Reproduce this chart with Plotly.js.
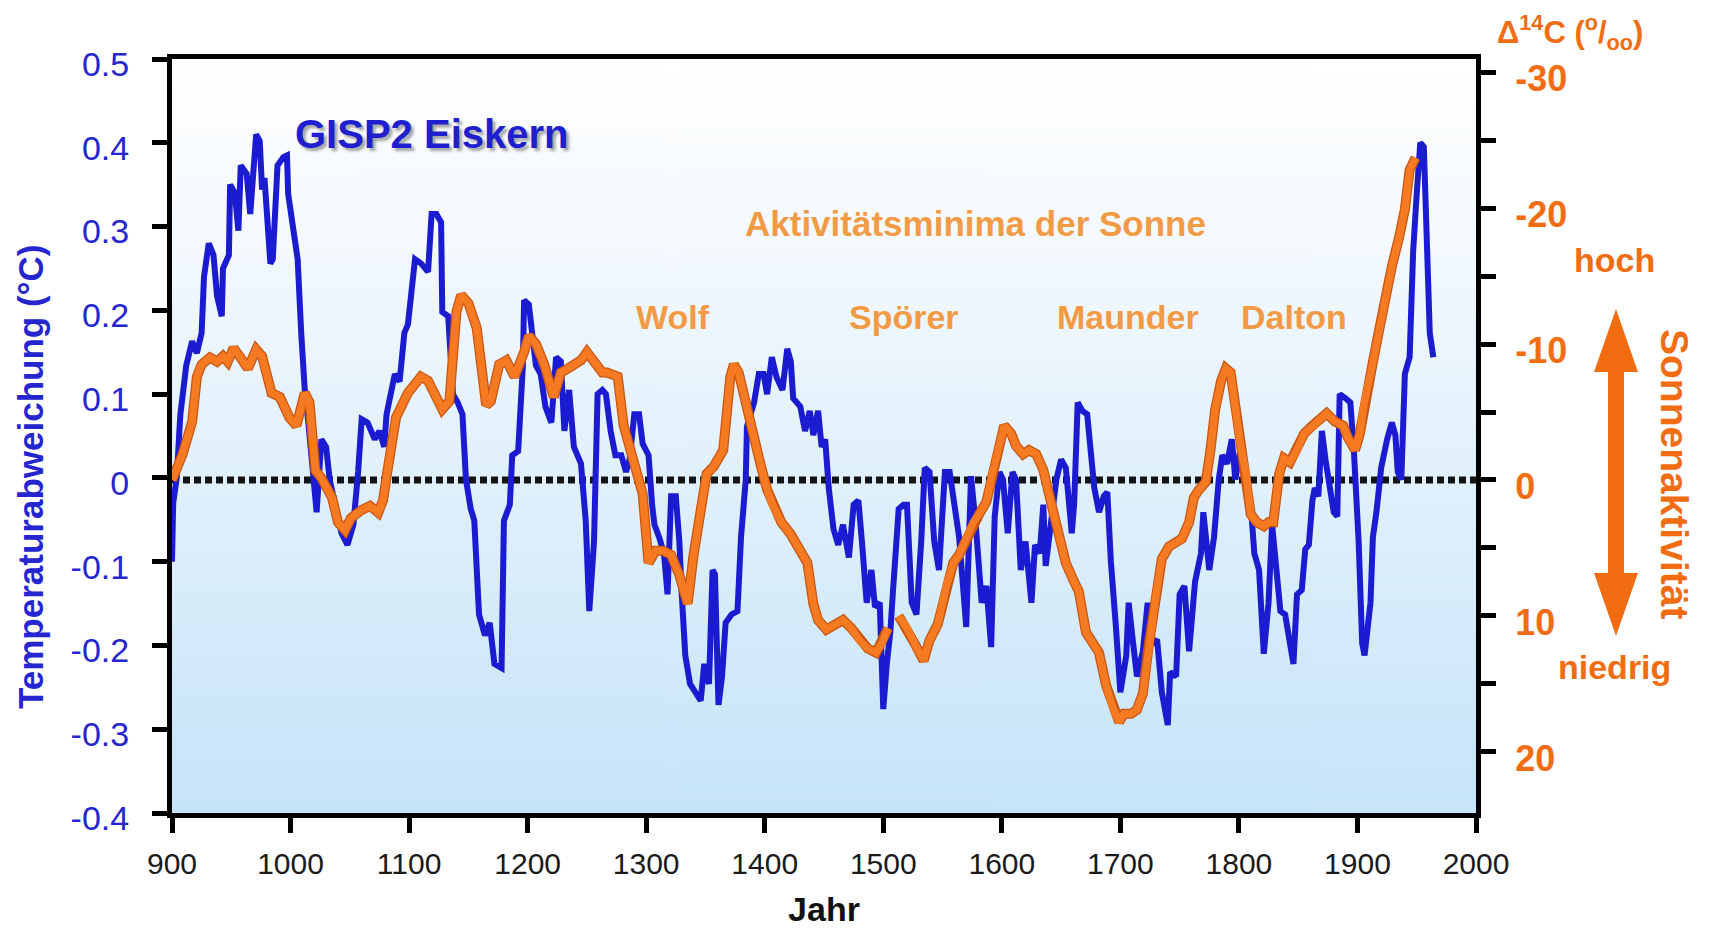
<!DOCTYPE html>
<html>
<head>
<meta charset="utf-8">
<script src="https://cdn.plot.ly/plotly-3.0.1.min.js"></script>
<style>
html,body{margin:0;padding:0;background:#ffffff;}
#chart{width:1710px;height:937px;}
</style>
</head>
<body>
<div id="chart"></div>
<script>
// ---------------- DATA ----------------
// GISP2 ice core temperature anomaly (°C)
const gispYears = [900,901,904,907,912,917,921,925,927,931,935,938,942,943,948,949,953,956,958,963,966,969,971,974,976,978,983,985,989,994,997,998,1002,1006,1009,1012,1015,1019,1022,1026,1030,1033,1037,1043,1048,1053,1057,1060,1065,1071,1075,1079,1081,1084,1088,1092,1096,1099,1105,1110,1116,1119,1123,1127,1128,1133,1134,1137,1141,1145,1148,1152,1155,1159,1164,1168,1172,1178,1180,1185,1187,1192,1196,1197,1201,1204,1207,1211,1215,1220,1224,1228,1231,1235,1239,1245,1249,1252,1256,1259,1263,1266,1270,1274,1279,1283,1286,1290,1294,1297,1302,1305,1307,1311,1315,1318,1321,1325,1328,1330,1333,1337,1342,1346,1349,1353,1356,1358,1361,1364,1367,1372,1377,1380,1384,1385,1391,1395,1399,1402,1406,1410,1415,1419,1422,1424,1430,1434,1438,1441,1445,1448,1451,1454,1458,1462,1466,1471,1475,1479,1482,1486,1490,1493,1497,1500,1503,1506,1508,1513,1517,1520,1524,1528,1532,1535,1539,1543,1547,1552,1556,1560,1564,1570,1574,1578,1583,1587,1591,1594,1598,1601,1605,1609,1612,1616,1620,1625,1628,1632,1635,1637,1640,1646,1650,1654,1659,1661,1664,1668,1672,1675,1678,1682,1686,1689,1692,1696,1700,1705,1707,1710,1714,1719,1723,1727,1731,1735,1740,1742,1747,1750,1754,1758,1761,1763,1768,1770,1775,1779,1783,1786,1790,1794,1797,1801,1805,1810,1813,1817,1821,1825,1828,1832,1835,1839,1843,1846,1849,1853,1856,1859,1862,1864,1867,1870,1873,1877,1880,1883,1885,1890,1894,1897,1901,1904,1906,1911,1913,1916,1920,1925,1929,1932,1934,1937,1940,1944,1947,1950,1953,1956,1958,1961,1964];
const gispTemp = [-0.10,-0.03,0.00,0.075,0.134,0.163,0.149,0.173,0.24,0.28,0.266,0.217,0.193,0.25,0.266,0.35,0.34,0.295,0.373,0.363,0.315,0.368,0.41,0.402,0.344,0.358,0.256,0.261,0.373,0.383,0.385,0.339,0.295,0.261,0.173,0.105,0.066,-0.002,-0.041,0.046,0.037,-0.002,-0.027,-0.066,-0.08,-0.056,0.007,0.07,0.066,0.046,0.056,0.037,0.076,0.095,0.124,0.115,0.173,0.183,0.261,0.256,0.246,0.315,0.315,0.305,0.198,0.193,0.159,0.10,0.09,0.076,-0.002,-0.037,-0.051,-0.163,-0.188,-0.173,-0.222,-0.227,-0.051,-0.032,0.027,0.032,0.134,0.212,0.207,0.163,0.134,0.124,0.085,0.066,0.144,0.139,0.056,0.105,0.037,0.017,-0.051,-0.159,-0.076,0.10,0.105,0.10,0.056,0.027,0.027,0.007,0.022,0.076,0.076,0.041,0.027,-0.032,-0.056,-0.071,-0.09,-0.139,-0.022,-0.022,-0.076,-0.139,-0.212,-0.246,-0.256,-0.266,-0.222,-0.246,-0.11,-0.115,-0.271,-0.237,-0.173,-0.163,-0.159,-0.071,-0.002,0.061,0.09,0.124,0.124,0.10,0.144,0.12,0.105,0.154,0.139,0.095,0.085,0.056,0.08,0.051,0.08,0.037,0.046,-0.012,-0.061,-0.08,-0.056,-0.095,-0.032,-0.027,-0.076,-0.149,-0.11,-0.154,-0.149,-0.276,-0.222,-0.183,-0.139,-0.037,-0.032,-0.032,-0.149,-0.163,-0.076,0.012,0.007,-0.076,-0.11,0.007,0.007,-0.032,-0.071,-0.178,0.002,-0.056,-0.149,-0.129,-0.202,-0.046,0.007,-0.002,-0.066,0.007,-0.002,-0.11,-0.076,-0.149,-0.08,-0.09,-0.032,-0.105,-0.071,-0.002,0.022,0.012,-0.066,-0.032,0.09,0.08,0.076,0.027,-0.012,-0.041,-0.022,-0.017,-0.10,-0.173,-0.256,-0.212,-0.149,-0.188,-0.237,-0.207,-0.149,-0.198,-0.193,-0.256,-0.295,-0.232,-0.237,-0.139,-0.129,-0.207,-0.149,-0.124,-0.09,-0.041,-0.11,-0.071,-0.002,0.027,0.017,0.046,-0.002,0.032,0.012,-0.032,-0.09,-0.11,-0.21,-0.149,-0.056,-0.124,-0.159,-0.163,-0.198,-0.222,-0.139,-0.134,-0.085,-0.08,-0.027,-0.012,-0.022,0.056,0.022,-0.012,-0.041,-0.046,0.10,0.095,0.09,0.032,-0.076,-0.198,-0.212,-0.149,-0.071,-0.041,0.012,0.046,0.066,0.051,0.007,-0.002,0.124,0.144,0.271,0.339,0.40,0.395,0.30,0.173,0.144];

// Delta 14C (per mil), null = gap in the record
const c14Years = [900,909,917,921,925,932,938,943,947,952,957,964,971,976,984,991,999,1005,1012,1016,1021,1026,1035,1040,1046,1051,1060,1067,1074,1078,1082,1089,1099,1110,1116,1122,1128,1134,1140,1144,1150,1157,1165,1169,1176,1182,1189,1197,1201,1207,1214,1222,1228,1234,1239,1245,1250,1256,1263,1267,1276,1281,1287,1293,1297,1302,1308,1314,1321,1328,1335,1340,1346,1351,1357,1365,1371,1374,1378,1384,1391,1396,1402,1407,1414,1422,1430,1436,1441,1445,1452,1459,1466,1473,1480,1487,1494,1500,1504,1508,1513,1520,1527,1534,1539,1546,1553,1559,1564,1570,1576,1581,1587,1592,1598,1602,1608,1612,1618,1623,1629,1635,1643,1649,1654,1660,1665,1671,1677,1682,1688,1693,1699,1703,1709,1714,1719,1724,1730,1735,1741,1747,1752,1758,1762,1766,1772,1776,1780,1785,1789,1793,1797,1801,1806,1810,1815,1821,1825,1829,1834,1838,1843,1849,1855,1862,1869,1874,1881,1888,1892,1898,1902,1906,1912,1918,1923,1929,1935,1940,1944,1949];
const c14Delta = [0,-1.9,-4.3,-7.6,-8.5,-9.0,-8.7,-9.1,-8.7,-9.7,-9.1,-8.2,-9.6,-9.1,-6.4,-6.1,-4.6,-4.0,-6.4,-5.7,-0.7,-0.15,1.3,3.1,3.7,2.8,2.2,1.9,2.4,1.5,-0.8,-4.6,-6.4,-7.6,-7.3,-6.1,-5.2,-5.8,-12.4,-13.6,-13.0,-11.2,-5.5,-5.8,-8.5,-8.8,-7.6,-9.4,-10.6,-10.0,-8.5,-6.1,-7.9,-8.2,-8.5,-8.8,-9.4,-8.7,-7.9,-7.9,-7.6,-4.0,-2.2,-0.45,1.0,6.1,5.2,5.2,5.5,7.0,9.1,5.5,2.2,-0.45,-1.0,-2.2,-7.6,-8.5,-7.9,-5.5,-3.1,-1.3,0.7,1.9,3.1,4.0,5.2,6.1,9.1,10.3,11.0,10.6,10.3,10.9,11.8,12.4,12.7,11.8,10.9,null,10.0,10.9,12.1,13.3,11.8,10.6,7.9,6.1,5.5,4.3,3.1,2.5,1.6,-0.45,-2.8,-4.0,-3.4,-2.5,-1.9,-2.2,-1.9,-0.75,2.2,4.3,6.1,7.3,8.2,11.2,12.1,12.7,15.1,16.6,17.8,17.2,17.2,16.9,15.7,12.1,8.5,5.8,4.9,4.6,4.3,3.1,1.3,0.75,0.15,-2.2,-5.2,-7.3,-8.2,-7.9,-5.2,-2.8,-0.45,2.5,3.1,3.4,3.1,3.1,-0.45,-1.6,-1.3,-2.2,-3.4,-4.0,-4.6,-4.9,-4.3,-4.0,-3.1,-2.2,-3.4,-5.8,-8.2,-10.9,-13.3,-15.7,-17.8,-19.9,-22.8,-23.7];

// Axis ticks / labels
const xTickVals = [900,1000,1100,1200,1300,1400,1500,1600,1700,1800,1900,2000];
const xTickText = ["900","1000","1100","1200","1300","1400","1500","1600","1700","1800","1900","2000"];
const yTickVals = [-0.4,-0.3,-0.2,-0.1,0,0.1,0.2,0.3,0.4,0.5];
const yTickText = ["-0.4","-0.3","-0.2","-0.1","0","0.1","0.2","0.3","0.4","0.5"];
const y2TickVals = [-30,-20,-10,0,10,20];
const y2TickText = ["-30","-20","-10","0","10","20"];
const y2MinorVals = [-25,-15,-5,5,15];
const minimaNames = ["Wolf","Spörer","Maunder","Dalton"];

// ---------------- LAYOUT HELPERS ----------------
const W = 1710, H = 937;
const PL = 172, PR = 1476, PT = 59, PB = 813;   // plot area in pixels
const fx = px => (px - PL) / (PR - PL);
const fy = py => (PB - py) / (PB - PT);

const FONT = '"Liberation Sans", Arial, Helvetica, sans-serif';
const BLUE = '#1b1bd2';
const BLUE_TXT = '#2626d0';
const ORANGE = '#f26c12';
const ORANGE_LIGHT = '#f39a45';

// background gradient (white -> light blue)
const cv = document.createElement('canvas');
cv.width = 4; cv.height = 256;
const ctx = cv.getContext('2d');
const grd = ctx.createLinearGradient(0, 0, 0, 256);
grd.addColorStop(0, '#ffffff');
grd.addColorStop(0.22, '#f5fafe');
grd.addColorStop(1, '#c6e4f9');
ctx.fillStyle = grd;
ctx.fillRect(0, 0, 4, 256);
const bgURL = cv.toDataURL('image/png');

// double arrow (pixel geometry -> paper coords)
const ax = 1616, aTop = 309, aBot = 636, headL = 63, headW = 22, shaftW = 8;
function P(x, y) { return fx(x).toFixed(5) + ',' + fy(y).toFixed(5); }
const arrowPath = 'M' + P(ax, aTop) +
  ' L' + P(ax + headW, aTop + headL) + ' L' + P(ax + shaftW, aTop + headL) +
  ' L' + P(ax + shaftW, aBot - headL) + ' L' + P(ax + headW, aBot - headL) +
  ' L' + P(ax, aBot) + ' L' + P(ax - headW, aBot - headL) +
  ' L' + P(ax - shaftW, aBot - headL) + ' L' + P(ax - shaftW, aTop + headL) +
  ' L' + P(ax - headW, aTop + headL) + ' Z';

// ---------------- TRACES ----------------
const traces = [
  {
    type: 'scatter', mode: 'lines', name: 'GISP2 Eiskern',
    x: gispYears, y: gispTemp, xaxis: 'x', yaxis: 'y',
    line: {color: BLUE, width: 6, shape: 'linear'},
    hoverinfo: 'x+y'
  },
  {
    type: 'scatter', mode: 'lines', name: 'Δ14C edge',
    x: c14Years, y: c14Delta, xaxis: 'x', yaxis: 'y2',
    line: {color: '#c95513', width: 10}, connectgaps: false,
    hoverinfo: 'skip', showlegend: false
  },
  {
    type: 'scatter', mode: 'lines', name: 'Δ14C',
    x: c14Years, y: c14Delta, xaxis: 'x', yaxis: 'y2',
    line: {color: '#f57a22', width: 7.5}, connectgaps: false,
    hoverinfo: 'x+y'
  }
];

const minimaX = [673, 904, 1128, 1294];

const annotations = [
  {text: 'GISP2 Eiskern', xref: 'paper', yref: 'paper', x: fx(431), y: fy(134),
   xanchor: 'center', yanchor: 'middle', showarrow: false,
   font: {family: FONT, size: 40, color: '#1f1fd0', weight: 700, shadow: '3px 3px 3px rgba(90,90,90,0.55)'}},
  {text: 'Aktivitätsminima der Sonne', xref: 'paper', yref: 'paper', x: fx(975), y: fy(223),
   xanchor: 'center', yanchor: 'middle', showarrow: false,
   font: {family: FONT, size: 35, color: ORANGE_LIGHT, weight: 700}},
  {text: 'Temperaturabweichung (°C)', xref: 'paper', yref: 'paper', x: fx(31), y: fy(477),
   xanchor: 'center', yanchor: 'middle', showarrow: false, textangle: -90,
   font: {family: FONT, size: 35, color: BLUE_TXT, weight: 700}},
  {text: 'Δ<sup>14</sup>C (<sup>o</sup>/<sub>oo</sub>)', xref: 'paper', yref: 'paper', x: fx(1570), y: fy(33),
   xanchor: 'center', yanchor: 'middle', showarrow: false,
   font: {family: FONT, size: 31, color: ORANGE, weight: 700}},
  {text: 'hoch', xref: 'paper', yref: 'paper', x: fx(1614), y: fy(260),
   xanchor: 'center', yanchor: 'middle', showarrow: false,
   font: {family: FONT, size: 34, color: ORANGE, weight: 700}},
  {text: 'niedrig', xref: 'paper', yref: 'paper', x: fx(1614), y: fy(667),
   xanchor: 'center', yanchor: 'middle', showarrow: false,
   font: {family: FONT, size: 34, color: ORANGE, weight: 700}},
  {text: 'Sonnenaktivität', xref: 'paper', yref: 'paper', x: fx(1675), y: fy(474),
   xanchor: 'center', yanchor: 'middle', showarrow: false, textangle: 90,
   font: {family: FONT, size: 39, color: ORANGE, weight: 700}}
];
minimaNames.forEach((n, i) => annotations.push({
  text: n, xref: 'paper', yref: 'paper', x: fx(minimaX[i]), y: fy(317),
  xanchor: 'center', yanchor: 'middle', showarrow: false,
  font: {family: FONT, size: 34, color: ORANGE_LIGHT, weight: 700}
}));

const layout = {
  width: W, height: H,
  margin: {l: PL, r: W - PR, t: PT, b: H - PB, pad: 0},
  paper_bgcolor: '#ffffff',
  plot_bgcolor: 'rgba(0,0,0,0)',
  showlegend: false,
  font: {family: FONT},
  xaxis: {
    range: [900, 2000], tickmode: 'array', tickvals: xTickVals, ticktext: xTickText,
    ticks: 'outside', ticklen: 15, tickwidth: 5, tickcolor: '#000',
    showline: true, linewidth: 5, linecolor: '#000', mirror: true,
    showgrid: false, zeroline: false,
    tickfont: {family: FONT, size: 30, color: '#1a1a1a'},
    ticklabelstandoff: 5,
    title: {text: 'Jahr', font: {family: FONT, size: 34, color: '#111', weight: 700}, standoff: 20}
  },
  yaxis: {
    range: [-0.4, 0.5], tickmode: 'array', tickvals: yTickVals, ticktext: yTickText,
    ticks: 'outside', ticklen: 15, tickwidth: 5, tickcolor: '#000',
    showline: true, linewidth: 5, linecolor: '#000',
    showgrid: false, zeroline: false,
    tickfont: {family: FONT, size: 34, color: BLUE_TXT},
    ticklabelstandoff: 16, ticklabelshift: 5
  },
  yaxis2: {
    overlaying: 'y', side: 'right',
    range: [24.49, -30.96], tickmode: 'array', tickvals: y2TickVals, ticktext: y2TickText,
    ticks: 'outside', ticklen: 15, tickwidth: 5, tickcolor: '#000',
    minor: {tickmode: 'array', tickvals: y2MinorVals, ticks: 'outside', ticklen: 15, tickwidth: 5, tickcolor: '#000'},
    showline: true, linewidth: 5, linecolor: '#000',
    showgrid: false, zeroline: false,
    tickfont: {family: FONT, size: 36, color: ORANGE, weight: 700},
    ticklabelstandoff: 12, ticklabelshift: -6
  },
  images: [{
    source: bgURL, xref: 'paper', yref: 'paper', x: 0, y: 1, sizex: 1, sizey: 1,
    xanchor: 'left', yanchor: 'top', sizing: 'stretch', layer: 'below'
  }],
  shapes: [
    {type: 'line', xref: 'paper', yref: 'y2', x0: 0, x1: 1, y0: 0, y1: 0, layer: 'below',
     line: {color: '#141414', width: 7, dash: '7px,4px'}},
    {type: 'path', xref: 'paper', yref: 'paper', path: arrowPath, layer: 'above',
     fillcolor: ORANGE, line: {width: 0}}
  ],
  annotations: annotations
};

Plotly.newPlot('chart', traces, layout, {displayModeBar: false, staticPlot: true});
</script>
</body>
</html>
